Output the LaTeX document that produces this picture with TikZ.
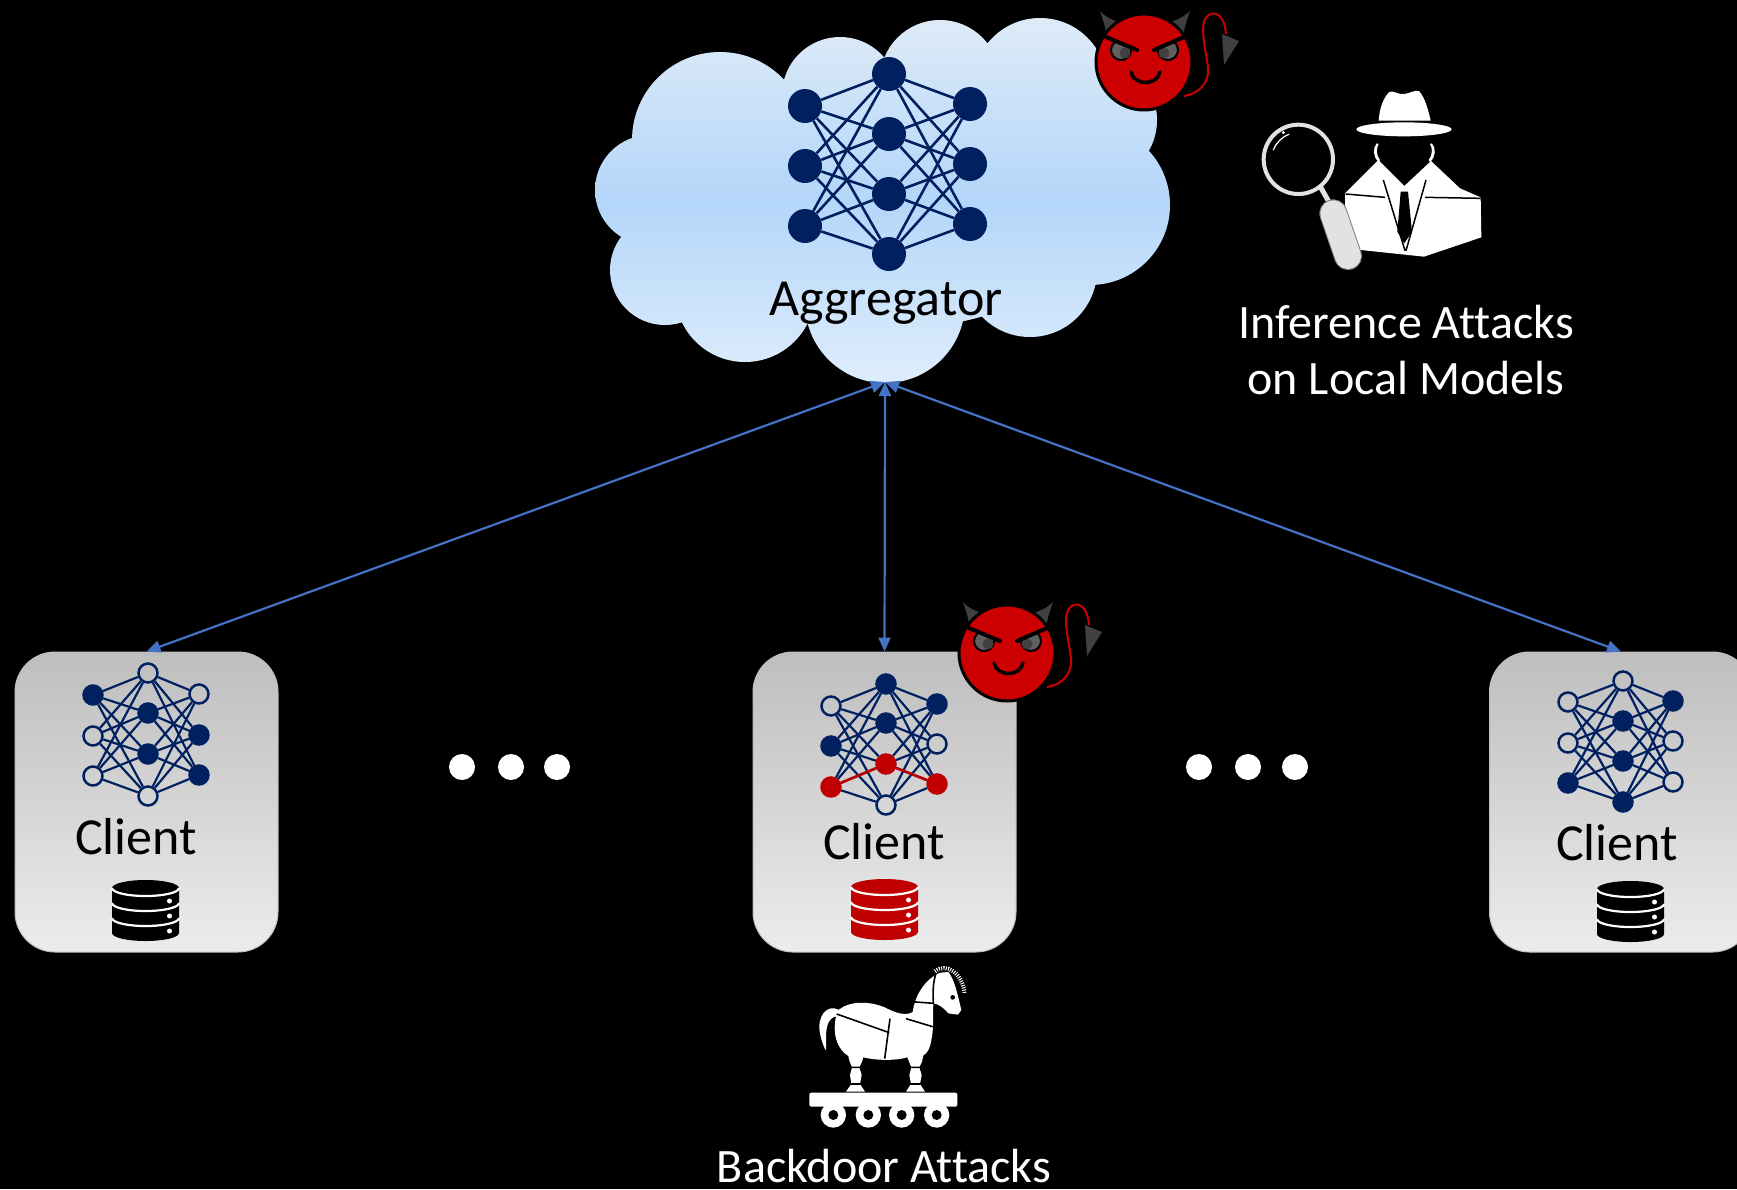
\documentclass[tikz,border=0pt]{standalone}
\usepackage{fontspec}
\setmainfont{Carlito}[Ligatures=NoCommon]
\usetikzlibrary{arrows.meta}

\definecolor{navy}{RGB}{0,32,96}
\definecolor{badred}{RGB}{192,0,0}
\definecolor{devilred}{RGB}{204,0,0}
\definecolor{horngray}{RGB}{64,64,64}
\definecolor{eyegray}{RGB}{96,96,96}
\definecolor{linkblue}{RGB}{68,114,196}
\definecolor{cloudtop}{RGB}{222,235,248}
\definecolor{cloudmid}{RGB}{180,214,249}
\definecolor{cloudbot}{RGB}{222,237,252}
\definecolor{boxtop}{RGB}{190,190,190}
\definecolor{boxbot}{RGB}{236,236,236}
\definecolor{glassgray}{RGB}{226,226,228}

\tikzset{
  agg node/.style={circle,fill=navy,inner sep=0pt,minimum size=34pt},
  full node/.style={circle,draw=navy,fill=navy,line width=2.5pt,inner sep=0pt,minimum size=19pt},
  empty node/.style={circle,draw=navy,line width=2.5pt,inner sep=0pt,minimum size=19pt},
  bad node/.style={circle,draw=badred,fill=badred,line width=2.5pt,inner sep=0pt,minimum size=19pt},
  agg link/.style={navy,line width=2.6pt},
  net link/.style={navy,line width=2.2pt},
  bad link/.style={badred,line width=2.6pt},
  client box/.style={rounded corners=40pt,top color=boxtop,bottom color=boxbot,
    draw=boxtop,line width=1pt,minimum width=263pt,minimum height=300pt},
  link/.style={linkblue,line width=2.2pt,
    {Triangle[length=14pt,width=12pt]}-{Triangle[length=14pt,width=12pt]}},
  label text/.style={font=\fontsize{52}{58}\selectfont},
  attack text/.style={white,font=\fontsize{48}{56}\selectfont},
  pics/database/.style={code={
    \fill[#1] (-33.5,0) -- (-33.5,45)
      arc[start angle=180,end angle=0,x radius=33.5,y radius=8] -- (33.5,0)
      arc[start angle=0,end angle=-180,x radius=33.5,y radius=8] -- cycle;
    \foreach \k in {0,15,30}
      \draw[white,line width=2.2pt] (-33.5,\k)
        arc[start angle=180,end angle=0,x radius=33.5,y radius=8];
    \foreach \k in {13,28,43}
      \fill[white] (24,\k) circle (2.5);
  }},
  pics/devil/.style={code={
    % horns
    \fill[horngray] (-44,-51) .. controls (-40,-40) and (-38,-32) .. (-37,-22) -- (-17,-38)
      .. controls (-28,-40) and (-38,-44) .. cycle;
    \fill[horngray] (46,-51) .. controls (42,-40) and (40,-32) .. (38,-22) -- (18,-38)
      .. controls (29,-40) and (39,-44) .. cycle;
    % head
    \filldraw[fill=devilred,draw=black,line width=3pt] (0,0) circle (48);
    % eyes
    \begin{scope}
      \clip (-40,-25) -- (-5,-11) -- (-5,8) -- (-40,8) -- cycle;
      \filldraw[fill=eyegray,draw=black,line width=2pt] (-23,-12) circle (10);
      \fill[horngray] (-19,-9) circle (5.5);
    \end{scope}
    \begin{scope}
      \clip (42,-25) -- (7,-11) -- (7,8) -- (42,8) -- cycle;
      \filldraw[fill=eyegray,draw=black,line width=2pt] (24,-12) circle (10);
      \fill[horngray] (20,-9) circle (5.5);
    \end{scope}
    % brows and grin
    \draw[line width=4pt,line cap=round] (-38,-25) -- (-7,-12) (10,-12) -- (40,-25);
    \draw[line width=3.5pt,line cap=round] (-13,10) .. controls (-10,24) and (13,24) .. (16,10);
    % tail
    \draw[line width=4pt] (40,34) .. controls (55,32) and (66,20) .. (64,5)
      .. controls (62,-10) and (57,-30) .. (60,-40) .. controls (63,-52) and (80,-54) .. (82,-28);
    \draw[devilred,line width=2pt] (40,34) .. controls (55,32) and (66,20) .. (64,5)
      .. controls (62,-10) and (57,-30) .. (60,-40) .. controls (63,-52) and (80,-54) .. (82,-28);
    \fill[horngray] (78,-28) -- (95,-21) -- (80,3) -- cycle;
  }}
}

\begin{document}
\begin{tikzpicture}[x=1pt,y=-1pt]
\useasboundingbox (0,0) rectangle (1737,1189);
\fill[black] (0,0) rectangle (1737,1189);

% the aggregator cloud
\shade[top color=cloudtop,bottom color=cloudbot,middle color=cloudmid]
  (650,190) circle (55) (665,270) circle (55) (745,292) circle (70)
  (885,303) circle (80) (1030,270) circle (67) (1090,205) circle (80)
  (1095,120) circle (62) (1040,85) circle (67) (940,80) circle (60)
  (840,95) circle (58) (720,140) circle (88) (880,200) ellipse (230 and 130);
\coordinate (agg) at (885,382);

% global model
\node[agg node] (a1) at (805,106) {};
\node[agg node] (a2) at (805,166) {};
\node[agg node] (a3) at (805,226) {};
\node[agg node] (h1) at (889,74) {};
\node[agg node] (h2) at (889,134) {};
\node[agg node] (h3) at (889,194) {};
\node[agg node] (h4) at (889,254) {};
\node[agg node] (o1) at (970,104) {};
\node[agg node] (o2) at (970,164) {};
\node[agg node] (o3) at (970,224) {};
\foreach \i in {1,2,3}
  \foreach \j in {1,...,4}
    \path (a\i) edge[agg link] (h\j) (h\j) edge[agg link] (o\i);
\node[label text,anchor=base] (aggname) at (886,315) {Aggregator};

% clients
\node[client box] (c1) at (146.5,802) {};
\node[client box] (c2) at (884.5,802) {};
\node[client box] (c3) at (1621,802) {};

\draw[link] (agg) -- (c1.north);
\draw[link] (agg) -- (c2.north);
\draw[link] (agg) -- (c3.north);

% left client model
\node[full node]  (la1) at (93,695) {};
\node[empty node] (la2) at (93,736) {};
\node[empty node] (la3) at (93,776) {};
\node[empty node] (lh1) at (148,673) {};
\node[full node]  (lh2) at (148,713) {};
\node[full node]  (lh3) at (148,754) {};
\node[empty node] (lh4) at (148,796) {};
\node[empty node] (lo1) at (199,694) {};
\node[full node]  (lo2) at (199,735) {};
\node[full node]  (lo3) at (199,775) {};

% poisoned client model
\node[empty node] (ma1) at (831,706) {};
\node[full node]  (ma2) at (831,746) {};
\node[bad node]   (ma3) at (831,787) {};
\node[full node]  (mh1) at (886,684) {};
\node[full node]  (mh2) at (886,723) {};
\node[bad node]   (mh3) at (886,764) {};
\node[empty node] (mh4) at (886,805) {};
\node[full node]  (mo1) at (937,704) {};
\node[empty node] (mo2) at (937,744) {};
\node[bad node]   (mo3) at (937,784) {};

% right client model
\node[empty node] (ra1) at (1568,702) {};
\node[empty node] (ra2) at (1568,743) {};
\node[full node]  (ra3) at (1568,783) {};
\node[empty node] (rh1) at (1623,681) {};
\node[full node]  (rh2) at (1623,721) {};
\node[full node]  (rh3) at (1623,761) {};
\node[full node]  (rh4) at (1623,802) {};
\node[full node]  (ro1) at (1673,701) {};
\node[empty node] (ro2) at (1673,741) {};
\node[empty node] (ro3) at (1673,782) {};

\foreach \c in {l,m,r}
  \foreach \i in {1,2,3}
    \foreach \j in {1,...,4}
      \path (\c a\i) edge[net link] (\c h\j) (\c h\j) edge[net link] (\c o\i);
\path (ma3) edge[bad link] (mh3) (mh3) edge[bad link] (mo3);

\node[label text,anchor=base] (c1name) at (136,854) {Client};
\node[label text,anchor=base] (c2name) at (884,859) {Client};
\node[label text,anchor=base] (c3name) at (1617,860) {Client};

% local data
\pic at (145.5,888) {database=black};
\pic at (884.5,887) {database=badred};
\pic at (1630.5,889) {database=black};

% more clients
\foreach \x in {462,511,557,1199,1248,1295}
  \fill[white] (\x,767) circle (13);

% malicious parties
\pic at (1144,62) {devil};
\pic at (1007,653) {devil};

% spy
\begin{scope}[shift={(1250,80)},scale=1/3]
  \fill[white] (386,122) .. controls (388,90) and (398,55) .. (418,36)
    .. controls (430,30) and (445,45) .. (463,42) .. controls (480,40) and (495,28) .. (508,34)
    .. controls (526,55) and (536,95) .. (542,122) -- cycle;
  \fill[white] (462,148) ellipse (143 and 21);
  \fill[white] (380,190) .. controls (368,205) and (368,230) .. (386,246) -- (390,240)
    .. controls (378,225) and (378,205) .. (386,192) -- cycle;
  \fill[white] (546,190) .. controls (558,205) and (558,230) .. (540,246) -- (536,240)
    .. controls (548,225) and (548,205) .. (540,192) -- cycle;
  \fill[white] (285,340) -- (385,240) -- (463,318) -- (543,243) -- (630,325)
    -- (692,352) -- (694,472) -- (522,530) -- (285,505) -- cycle;
  \draw[black,line width=1.5pt] (400,300) -- (465,512) (528,300) -- (468,512)
    (287,342) -- (405,352) (525,352) -- (692,355);
  \fill[black] (452,335) -- (474,335) -- (486,455) -- (463,490) -- (442,455) -- cycle;
  % magnifying glass
  \draw[glassgray,line width=4pt] (145,238) circle (104);
  \draw[white,line width=1.2pt] (145,238) ++(200:80) arc[start angle=200,end angle=250,radius=80];
  \fill[white] (100,158) circle (5);
  \draw[glassgray,line width=5pt] (212,322) -- (245,380);
  \draw[gray,line width=28pt,line cap=round] (250,400) -- (294,528);
  \draw[glassgray,line width=26pt,line cap=round] (250,400) -- (294,528);
\end{scope}
\node[attack text,anchor=base] (spyname) at (1406,338) {Inference Attacks};
\node[attack text,anchor=base] (spyname2) at (1406,394) {on Local Models};

% trojan horse
\begin{scope}[shift={(800,960)},scale=1/3]
  \fill[white] (118,150) .. controls (80,130) and (50,170) .. (60,220)
    .. controls (65,245) and (72,262) .. (78,272) .. controls (80,245) and (72,200) .. (92,178)
    .. controls (100,170) and (108,168) .. (115,170) -- cycle;
  \fill[white] (118,148) .. controls (150,122) and (215,122) .. (262,146)
    .. controls (290,160) and (318,168) .. (338,156)
    .. controls (345,105) and (375,58) .. (420,38) -- (445,36)
    .. controls (465,60) and (474,110) .. (484,150) -- (474,164) -- (445,160)
    .. controls (430,142) and (415,132) .. (400,130)
    .. controls (398,165) and (402,205) .. (394,240)
    .. controls (390,265) and (382,280) .. (370,286)
    -- (366,305) -- (358,322) -- (365,345) -- (360,372) -- (375,395) -- (318,395)
    -- (333,372) -- (328,345) -- (334,322) -- (326,302) -- (322,292)
    .. controls (290,302) and (230,302) .. (190,292)
    -- (186,305) -- (178,322) -- (185,345) -- (180,372) -- (195,395) -- (138,395)
    -- (154,372) -- (150,345) -- (156,322) -- (148,302) -- (145,288)
    .. controls (115,270) and (100,230) .. (105,190)
    .. controls (106,170) and (112,155) .. (118,148) -- cycle;
  \draw[black,line width=1.6pt] (110,162) -- (268,218) (270,176) -- (254,296)
    (318,176) -- (398,200) (335,125) -- (402,130) (407,42) .. controls (396,80) and (400,110) .. (400,130)
    (148,322) -- (186,322) (150,372) -- (182,372) (326,322) -- (366,322) (330,372) -- (362,372);
  \fill[black] (458,112) circle (7);
  \draw[white,line width=4pt,dash pattern=on 1pt off 1.3pt] (405,34) .. controls (440,6) and (487,40) .. (494,100);
  \fill[white,rounded corners=2pt] (28,398) rectangle (472,440);
  \foreach \x in {100,205,305,410} {
    \fill[white] (\x,465) circle (38);
    \fill[black] (\x,465) circle (15);
  }
\end{scope}
\node[attack text,anchor=base] (trojanname) at (884,1182) {Backdoor Attacks};
\end{tikzpicture}
\end{document}
